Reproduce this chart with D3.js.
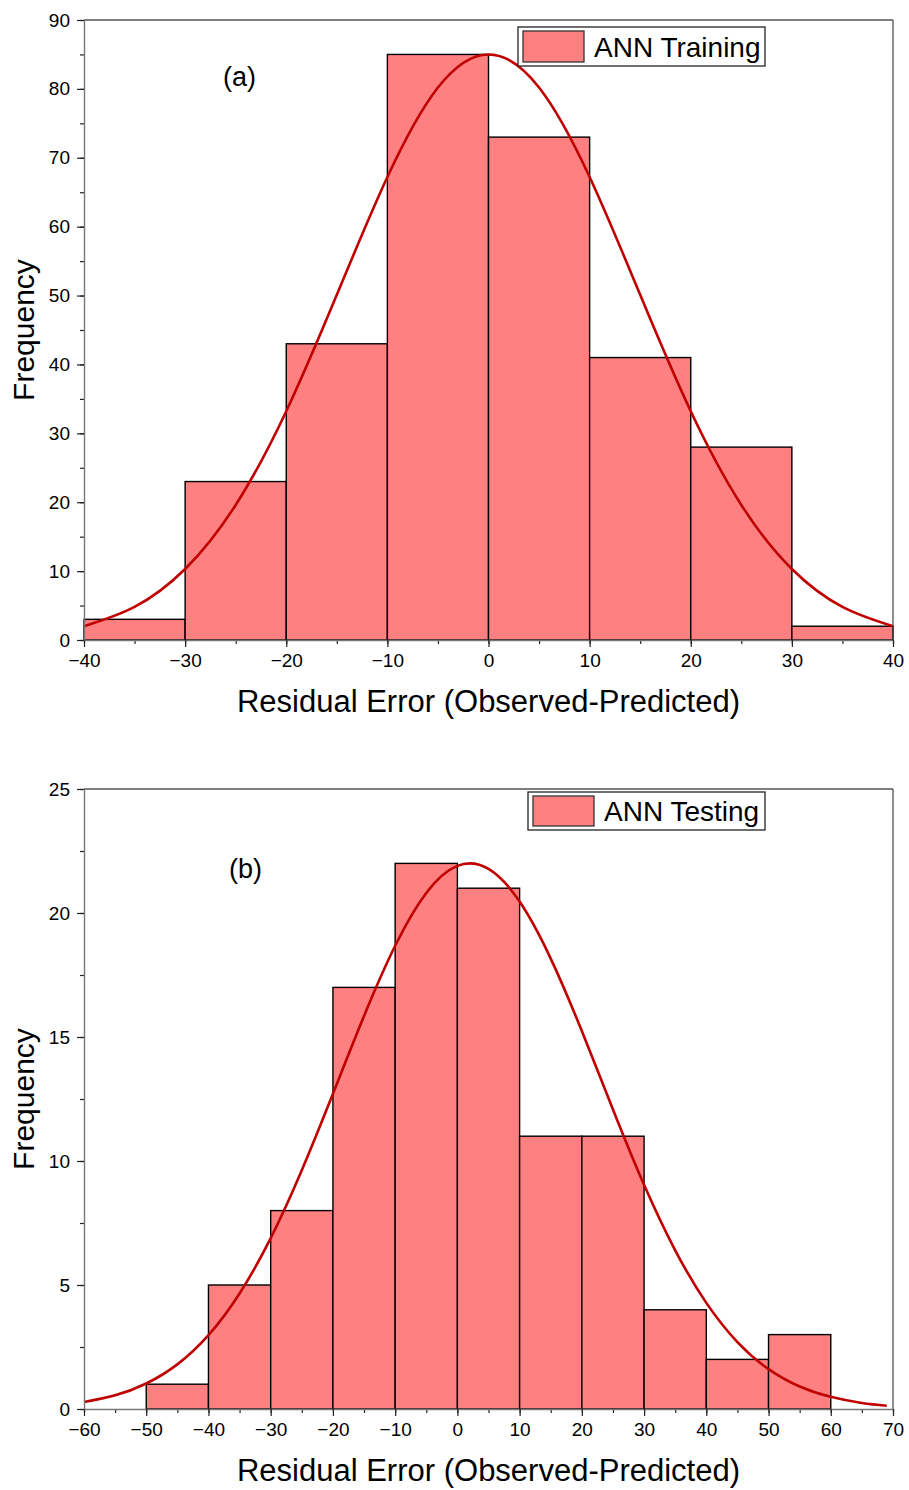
<!DOCTYPE html>
<html>
<head>
<meta charset="utf-8">
<script src="https://cdn.jsdelivr.net/npm/d3@7"></script>
<style>
  body { margin: 0; background: #fff; }
  text { font-family: Arial, "Liberation Sans", sans-serif; fill: #000; }
</style>
</head>
<body>
<div id="app"></div>
<script>
// panel (a) training histogram
const binEdgesA = [-40, -30, -20, -10, 0, 10, 20, 30, 40];
const countsA = [3, 23, 43, 85, 73, 41, 28, 2];
const curveXA = [-40, -35, -30, -25, -20, -15, -10, -5, 0, 5, 10, 15, 20, 25, 30, 35, 40];
const curveYA = [2.0, 4.8, 10.3, 19.6, 33.2, 50.1, 67.2, 80.2, 85, 80.2, 67.2, 50.1, 33.2, 19.6, 10.3, 4.8, 2.0];
const xTicksA = [-40, -30, -20, -10, 0, 10, 20, 30, 40];
const yTicksA = [0, 10, 20, 30, 40, 50, 60, 70, 80, 90];

// panel (b) testing histogram
const binEdgesB = [-50, -40, -30, -20, -10, 0, 10, 20, 30, 40, 50, 60];
const countsB = [1, 5, 8, 17, 22, 21, 11, 11, 4, 2, 3];
const curveXB = [-60, -55, -50, -45, -40, -35, -30, -25, -20, -15, -10, -5, 0, 5, 10, 15, 20, 25, 30, 35, 40, 45, 50, 55, 60, 65, 69];
const curveYB = [0.28, 0.55, 1.03, 1.8, 2.98, 4.66, 6.89, 9.63, 12.71, 15.85, 18.68, 20.81, 21.9, 21.78, 20.46, 18.16, 15.24, 12.08, 9.04, 6.4, 4.28, 2.7, 1.61, 0.91, 0.49, 0.24, 0.13];
const xTicksB = [-60, -50, -40, -30, -20, -10, 0, 10, 20, 30, 40, 50, 60, 70];
const yTicksB = [0, 5, 10, 15, 20, 25];

const W = 909, H = 1490;

const svg = d3.select("#app").append("svg")
  .attr("width", W)
  .attr("height", H);

function drawPanel(opts) {
  const left = 84, right = 893;
  const x = d3.scaleLinear().domain(opts.xDomain).range([left, right]);
  const y = d3.scaleLinear().domain(opts.yDomain).range([opts.bottom, opts.top]);
  const g = svg.append("g");

  // bars
  const bars = opts.counts.map((c, i) => ({ x0: opts.edges[i], x1: opts.edges[i + 1], c: c }));
  g.selectAll("rect.bar")
    .data(bars)
    .enter()
    .append("rect")
    .attr("class", "bar")
    .attr("x", d => x(d.x0))
    .attr("y", d => y(d.c))
    .attr("width", d => x(d.x1) - x(d.x0))
    .attr("height", d => y(0) - y(d.c))
    .attr("fill", "#ff8080")
    .attr("stroke", "#000")
    .attr("stroke-width", 1.4);

  // fitted curve
  const pts = opts.curveX.map((v, i) => [v, opts.curveY[i]]);
  g.append("path")
    .datum(pts)
    .attr("fill", "none")
    .attr("stroke", "#c00000")
    .attr("stroke-width", 2.6)
    .attr("d", d3.line()
      .x(d => x(d[0]))
      .y(d => y(d[1]))
      .curve(d3.curveNatural));

  // frame (top / right)
  g.append("line").attr("x1", left).attr("x2", right).attr("y1", opts.top).attr("y2", opts.top)
    .attr("stroke", "#000").attr("stroke-width", 1.2);
  g.append("line").attr("x1", right).attr("x2", right).attr("y1", opts.top).attr("y2", opts.bottom)
    .attr("stroke", "#444").attr("stroke-width", 1.2);

  // minor ticks
  const xMinor = d3.range(opts.xDomain[0], opts.xDomain[1] + 0.001, opts.xMinorStep);
  const yMinor = d3.range(opts.yDomain[0], opts.yDomain[1] + 0.001, opts.yMinorStep);
  g.append("g")
    .attr("transform", "translate(0," + opts.bottom + ")")
    .call(d3.axisBottom(x).tickValues(xMinor).tickSize(4).tickFormat(""))
    .call(s => s.select(".domain").remove());
  g.append("g")
    .attr("transform", "translate(" + left + ",0)")
    .call(d3.axisLeft(y).tickValues(yMinor).tickSize(4).tickFormat(""))
    .call(s => s.select(".domain").remove());

  // major axes
  const xAxis = g.append("g")
    .attr("transform", "translate(0," + opts.bottom + ")")
    .call(d3.axisBottom(x).tickValues(opts.xTicks).tickSize(7).tickSizeOuter(0).tickPadding(7));
  const yAxis = g.append("g")
    .attr("transform", "translate(" + left + ",0)")
    .call(d3.axisLeft(y).tickValues(opts.yTicks).tickSize(7).tickSizeOuter(0).tickPadding(7));

  [xAxis, yAxis].forEach(a => {
    a.selectAll("text")
      .attr("font-family", "Arial, 'Liberation Sans', sans-serif")
      .attr("font-size", "19px")
      .attr("fill", "#000");
    a.select(".domain").attr("stroke", "#777").attr("stroke-width", 1.4);
  });
  g.selectAll(".tick line").attr("stroke", "#222").attr("stroke-width", 1.2);

  // axis titles
  g.append("text")
    .attr("x", (left + right) / 2)
    .attr("y", opts.bottom + 72)
    .attr("text-anchor", "middle")
    .attr("font-size", "31px")
    .text("Residual Error (Observed-Predicted)");

  g.append("text")
    .attr("transform", "translate(34," + (opts.top + opts.bottom) / 2 + ") rotate(-90)")
    .attr("text-anchor", "middle")
    .attr("font-size", "30px")
    .text("Frequency");

  // panel tag
  g.append("text")
    .attr("x", opts.tagX)
    .attr("y", opts.tagY)
    .attr("font-size", "27px")
    .text(opts.tag);

  // legend
  const lg = g.append("g");
  lg.append("rect")
    .attr("x", opts.legX).attr("y", opts.legY)
    .attr("width", 765 - opts.legX).attr("height", opts.legH)
    .attr("fill", "#fff").attr("stroke", "#222").attr("stroke-width", 1.3);
  lg.append("rect")
    .attr("x", opts.legX + 5).attr("y", opts.legY + 4)
    .attr("width", 61).attr("height", opts.legH - 8)
    .attr("fill", "#ff8080").attr("stroke", "#333").attr("stroke-width", 1.3);
  lg.append("text")
    .attr("x", opts.legX + 76).attr("y", opts.legY + opts.legH / 2 + 10)
    .attr("font-size", "28px")
    .text(opts.legend);
}

drawPanel({
  xDomain: [-40, 40], yDomain: [0, 90],
  top: 20, bottom: 640,
  edges: binEdgesA, counts: countsA,
  curveX: curveXA, curveY: curveYA,
  xTicks: xTicksA, yTicks: yTicksA,
  xMinorStep: 5, yMinorStep: 5,
  tag: "(a)", tagX: 223, tagY: 86,
  legend: "ANN Training", legX: 518, legY: 27, legH: 39
});

drawPanel({
  xDomain: [-60, 70], yDomain: [0, 25],
  top: 789, bottom: 1409,
  edges: binEdgesB, counts: countsB,
  curveX: curveXB, curveY: curveYB,
  xTicks: xTicksB, yTicks: yTicksB,
  xMinorStep: 5, yMinorStep: 2.5,
  tag: "(b)", tagX: 229, tagY: 878,
  legend: "ANN Testing", legX: 528, legY: 792, legH: 38
});
</script>
</body>
</html>
